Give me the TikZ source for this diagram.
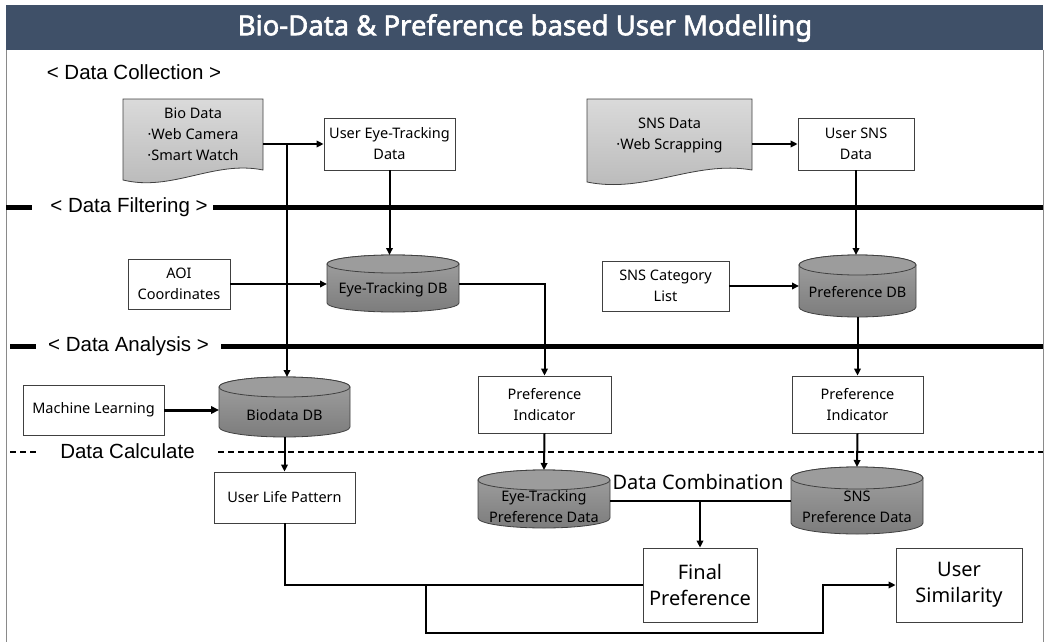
\documentclass[tikz,border=0pt]{standalone}
\usepackage{fontspec}
\setmainfont{Noto Sans}
\newfontfamily\secfont{Liberation Sans}
\newfontfamily\titlefont{Noto Sans}[AutoFakeBold=2.2]
\usetikzlibrary{arrows.meta,calc}
\definecolor{titlebg}{HTML}{3F5068}
\definecolor{edgec}{HTML}{404040}
\definecolor{framec}{HTML}{8A8A8A}
\definecolor{cyltopc}{HTML}{9C9C9C}
\definecolor{cylhi}{HTML}{A2A2A2}
\definecolor{cyllo}{HTML}{7C7C7C}
\definecolor{dochi}{HTML}{DADADA}
\definecolor{doclo}{HTML}{B8B8B8}
\newcommand\drawcyl[3]{% name, rx, ry
  \path[cylbody] ([yshift=-#3pt]#1.north west) -- ([yshift=#3pt]#1.south west)
    arc[start angle=180,end angle=360,x radius=#2pt,y radius=#3pt]
    -- ([yshift=-#3pt]#1.north east)
    arc[start angle=0,end angle=180,x radius=#2pt,y radius=#3pt] -- cycle;
  \path[cyltop] ([yshift=-#3pt]#1.north) ellipse[x radius=#2pt,y radius=#3pt];
}
\newcommand\drawdoc[5]{% name, ctrl dx, right rise, dip, hump
  \path[docbody] (#1.north west) -- (#1.south west)
    .. controls ([xshift=#2pt,yshift=-#4pt]#1.south west) and ([xshift=-#2pt,yshift=#5pt]#1.south east)
    .. ([yshift=#3pt]#1.south east) -- (#1.north east) -- cycle;
}
\tikzset{
  box/.style={draw=edgec, fill=white, line width=0.8pt, align=center, inner sep=0pt,
    font=\fontsize{14.5}{21}\selectfont},
  bigbox/.style={box, font=\fontsize{20}{26}\selectfont},
  ghost/.style={draw=none, inner sep=0pt, outer sep=0pt},
  cylbody/.style={draw=edgec, line width=0.8pt, top color=cylhi, bottom color=cyllo},
  cyltop/.style={draw=edgec, line width=0.8pt, fill=cyltopc},
  docbody/.style={draw=edgec, line width=0.8pt, top color=dochi, bottom color=doclo},
  txt/.style={align=center, inner sep=0pt, font=\fontsize{14.5}{21}\selectfont},
  sec/.style={inner sep=0pt, font=\secfont\fontsize{20.5}{24}\selectfont},
  conn/.style={line width=2pt, -{Triangle[length=7pt,width=6.5pt]}},
  plain/.style={line width=2pt},
  sepline/.style={line width=5pt},
}
\begin{document}
\begin{tikzpicture}[x=1pt,y=-1pt]
\useasboundingbox (0,0) rectangle (1049,642);
% frame and title
\fill[titlebg] (6,5) rectangle (1043,50);
\draw[framec, line width=1pt] (6,50) -- (6,642);
\draw[framec, line width=1pt] (1043,50) -- (1043,642);
\node[font=\titlefont\bfseries\fontsize{27.5}{32}\selectfont, text=white] (title) at (525,28) {Bio-Data \& Preference based User Modelling};

% section labels and separators
\node[sec] (scoll) at (134,72) {< Data Collection >};
\node[sec] (sfilt) at (129,207) {< Data Filtering >};
\node[sec] (sana) at (128.5,346) {< Data Analysis >};
\node[sec] (scalc) at (127.5,451) {Data Calculate};
\draw[sepline] (6,207) -- (32,207);
\draw[sepline] (213,207) -- (1043,207);
\draw[sepline] (10,346) -- (36,346);
\draw[sepline] (221,346) -- (1043,346);
\draw[line width=1.4pt, dash pattern=on 6pt off 4pt] (10,452) -- (38,452);
\draw[line width=1.4pt, dash pattern=on 6pt off 4pt] (218,452) -- (1043,452);

% ghost nodes for drawn shapes
\node[ghost, minimum width=140pt, minimum height=81pt] (bio) at (193,139.5) {};
\node[ghost, minimum width=165pt, minimum height=83pt] (snsd) at (669.5,140.5) {};
\node[ghost, minimum width=132pt, minimum height=57pt] (etdb) at (393,283.5) {};
\node[ghost, minimum width=117pt, minimum height=62pt] (prefdb) at (857.5,286) {};
\node[ghost, minimum width=131pt, minimum height=60pt] (biodb) at (284.5,407) {};
\node[ghost, minimum width=132pt, minimum height=58pt] (etpd) at (544,499) {};
\node[ghost, minimum width=132pt, minimum height=67pt] (snspd) at (857,500.5) {};

\drawdoc{bio}{49}{10}{12}{20}
\drawdoc{snsd}{58}{12}{12}{22}
\drawcyl{etdb}{66}{9}
\drawcyl{prefdb}{58.5}{10}
\drawcyl{biodb}{65.5}{10}
\drawcyl{etpd}{66}{10}
\drawcyl{snspd}{66}{11}

% texts on drawn shapes
\node[txt] (biot) at (193,134.5) {Bio Data\\·Web Camera\\·Smart Watch};
\node[txt] (snsdt) at (669.5,135.5) {SNS Data\\·Web Scrapping};
\node[txt] (etdbt) at (393,290) {Eye-Tracking DB};
\node[txt] (prefdbt) at (857.5,292) {Preference DB};
\node[txt] (biodbt) at (284.5,415) {Biodata DB};
\node[txt] (etpdt) at (544,507) {Eye-Tracking\\Preference Data};
\node[txt] (snspdt) at (857,507) {SNS\\Preference Data};

% boxes
\node[box, minimum width=131pt, minimum height=52pt] (uet) at (389.5,144) {User Eye-Tracking\\Data};
\node[box, minimum width=116pt, minimum height=52pt] (usns) at (856,144) {User SNS\\Data};
\node[box, minimum width=102pt, minimum height=50pt] (aoi) at (179,284) {AOI\\Coordinates};
\node[box, minimum width=127pt, minimum height=50pt] (snscat) at (665.5,286) {SNS Category\\List};
\node[box, minimum width=141pt, minimum height=50pt] (ml) at (93.5,410) {Machine Learning};
\node[box, minimum width=133pt, minimum height=57pt] (pi1) at (544.5,404.5) {Preference\\Indicator};
\node[box, minimum width=131pt, minimum height=57pt] (pi2) at (857.5,404.5) {Preference\\Indicator};
\node[box, minimum width=141pt, minimum height=51pt] (ulp) at (284.5,497.5) {User Life Pattern};
\node[bigbox, minimum width=114pt, minimum height=74pt] (fp) at (700,585) {Final\\Preference};
\node[bigbox, minimum width=126pt, minimum height=74pt] (us) at (959,585) {User\\Similarity};
\node[font=\fontsize{20}{24}\selectfont, inner sep=0pt] (dcomb) at (698,482) {Data Combination};

% junction coordinates
\coordinate (j1) at (287,144);
\coordinate (j2) at (700,501);
\coordinate (j3) at (426,585);
\coordinate (j4) at (823,633);

% connectors
\draw[conn] (bio.east |- uet.west) -- (uet.west);
\draw[conn] (j1) -- (j1 |- biodb.north);
\draw[conn] (uet.south) -- (uet.south |- etdb.north);
\draw[conn] (aoi.east) -- (aoi.east -| etdb.west);
\draw[conn] (etdb.east) -- (pi1.north |- etdb.east) -- (pi1.north);
\draw[conn] (snsd.east |- usns.west) -- (usns.west);
\draw[conn] (usns.south) -- (usns.south |- prefdb.north);
\draw[conn] (snscat.east) -- (snscat.east -| prefdb.west);
\draw[conn] (prefdb.south) -- (pi2.north);
\draw[line width=3pt, -{Triangle[length=8pt,width=7.5pt]}] (ml.east) -- (ml.east -| biodb.west);
\draw[conn] (biodb.south) -- (ulp.north);
\draw[conn] (pi1.south) -- (etpd.north);
\draw[conn] (pi2.south) -- (snspd.north);
\draw[plain] (etpd.east |- j2) -- (snspd.west |- j2);
\draw[conn] (j2) -- (fp.north);
\draw[plain] (ulp.south) -- (ulp.south |- fp.west) -- (fp.west);
\draw[conn] (j3) -- (j3 |- j4) -- (j4) -- (j4 |- us.west) -- (us.west);
\end{tikzpicture}
\end{document}
